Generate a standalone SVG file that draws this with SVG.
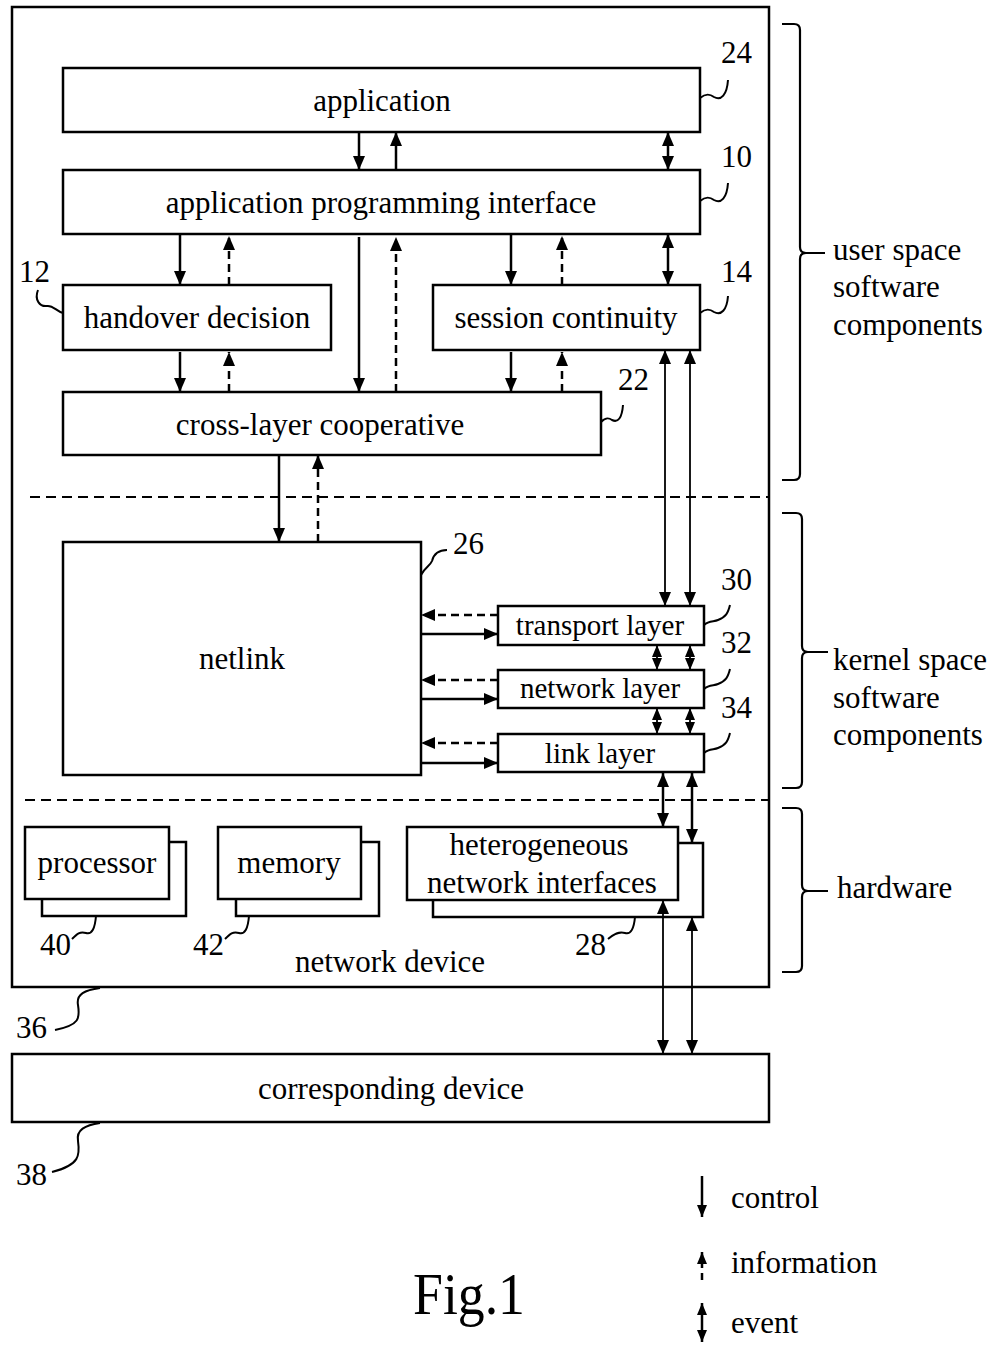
<svg xmlns="http://www.w3.org/2000/svg" width="997" height="1345" viewBox="0 0 997 1345">
<style>
.box{fill:#fff;stroke:#000;stroke-width:2.5}
.t{font-family:"Liberation Serif","Times New Roman",serif;font-size:31px;fill:#000}
.s{font-size:29px}
.c{text-anchor:middle}
.ln{stroke:#000;stroke-width:2.5;fill:none}
.th{stroke-width:1.8}
.d{stroke-dasharray:8,5}
.sep{stroke:#000;stroke-width:2;stroke-dasharray:10,6;fill:none}
.sq{stroke:#000;stroke-width:2;fill:none}
.br{stroke:#000;stroke-width:2.2;fill:none}
</style>
<defs>
<marker id="a" markerUnits="userSpaceOnUse" markerWidth="14" markerHeight="12" refX="14" refY="6" orient="auto-start-reverse">
<path d="M0,0 L14,6 L0,12 z" fill="#000"/>
</marker>
<marker id="as" markerUnits="userSpaceOnUse" markerWidth="12" markerHeight="10" refX="12" refY="5" orient="auto-start-reverse">
<path d="M0,0 L12,5 L0,10 z" fill="#000"/>
</marker>
</defs>
<rect width="997" height="1345" fill="#fff"/>

<g id="network-device">
<rect class="box" x="12" y="7" width="757" height="980"/>
<text class="t c" x="390" y="972">network device</text>
<path class="sq" d="M100,988 C85,990 76,994 78,1005 C80,1018 80,1025 55,1030"/>
<text class="t" x="16" y="1038">36</text>
</g>

<g id="separators">
<path class="sep" d="M30,497 H769"/>
<path class="sep" d="M25,800 H769"/>
</g>

<g id="application">
<rect class="box" x="63" y="68" width="637" height="64"/>
<text class="t c" x="382" y="111">application</text>
<path class="sq" d="M700,98 C706,93 710,94 714,97 C721,101 727,95 728,80"/>
<text class="t" x="721" y="63">24</text>
</g>

<g id="api">
<rect class="box" x="63" y="170" width="637" height="64"/>
<text class="t c" x="381" y="213">application programming interface</text>
<path class="sq" d="M700,201 C706,196 710,197 714,200 C721,204 727,198 728,183"/>
<text class="t" x="721" y="167">10</text>
</g>

<g id="handover-decision">
<rect class="box" x="63" y="285" width="268" height="65"/>
<text class="t c" x="197" y="328">handover decision</text>
<path class="sq" d="M63,313 C56,311 53,305 47,306 C40,307 34,300 38,290"/>
<text class="t" x="19" y="282">12</text>
</g>

<g id="session-continuity">
<rect class="box" x="433" y="285" width="267" height="65"/>
<text class="t c" x="566" y="328">session continuity</text>
<path class="sq" d="M700,313 C706,308 710,309 714,312 C721,316 727,310 728,296"/>
<text class="t" x="721" y="282">14</text>
</g>

<g id="cross-layer-cooperative">
<rect class="box" x="63" y="392" width="538" height="63"/>
<text class="t c" x="320" y="435">cross-layer cooperative</text>
<path class="sq" d="M601,422 C606,417 609,418 612,420 C618,423 622,418 623,405"/>
<text class="t" x="618" y="390">22</text>
</g>

<g id="netlink">
<rect class="box" x="63" y="542" width="358" height="233"/>
<text class="t c" x="242" y="669">netlink</text>
<path class="sq" d="M421,575 C425,567 430,566 432,561 C434,553 440,550 447,550"/>
<text class="t" x="453" y="554">26</text>
</g>

<g id="transport-layer">
<rect class="box" x="498" y="606" width="206" height="39"/>
<text class="t s c" x="600" y="635">transport layer</text>
<path class="sq" d="M704,625 C709,620 714,622 718,620 C726,617 728,613 730,605"/>
<text class="t" x="721" y="590">30</text>
</g>

<g id="network-layer">
<rect class="box" x="498" y="670" width="206" height="38"/>
<text class="t s c" x="600" y="698">network layer</text>
<path class="sq" d="M704,689 C709,684 714,686 718,684 C726,681 728,677 730,669"/>
<text class="t" x="721" y="653">32</text>
</g>

<g id="link-layer">
<rect class="box" x="498" y="734" width="206" height="38"/>
<text class="t s c" x="600" y="763">link layer</text>
<path class="sq" d="M704,753 C709,748 714,750 718,748 C726,745 728,741 730,733"/>
<text class="t" x="721" y="718">34</text>
</g>

<g id="processor">
<rect class="box" x="42" y="842" width="144" height="74"/>
<rect class="box" x="25" y="827" width="144" height="72"/>
<text class="t c" x="97" y="873">processor</text>
<path class="sq" d="M96,916 C95,928 92,935 86,933 C80,931 77,934 72,939"/>
<text class="t" x="40" y="955">40</text>
</g>

<g id="memory">
<rect class="box" x="236" y="842" width="143" height="74"/>
<rect class="box" x="218" y="827" width="143" height="72"/>
<text class="t c" x="289" y="873">memory</text>
<path class="sq" d="M249,916 C248,928 245,935 239,933 C233,931 230,934 225,939"/>
<text class="t" x="193" y="955">42</text>
</g>

<g id="heterogeneous-network-interfaces">
<rect class="box" x="433" y="843" width="270" height="74"/>
<rect class="box" x="407" y="827" width="271" height="73"/>
<text class="t c" x="539" y="855">heterogeneous</text>
<text class="t c" x="542" y="893">network interfaces</text>
<path class="sq" d="M635,917 C634,928 631,935 625,933 C619,931 614,934 608,939"/>
<text class="t" x="575" y="955">28</text>
</g>

<g id="corresponding-device">
<rect class="box" x="12" y="1054" width="757" height="68"/>
<text class="t c" x="391" y="1099">corresponding device</text>
<path class="sq" d="M100,1123 C85,1125 76,1130 78,1141 C80,1155 80,1165 52,1172"/>
<text class="t" x="16" y="1185">38</text>
</g>

<g id="brackets">
<path class="br" d="M782,24 L794,24 Q800,24 800,30 L800,247 Q800,253 806,253 L825,253 M806,253 Q800,253 800,259 L800,474 Q800,480 794,480 L782,480"/>
<text class="t" x="833" y="260">user space</text>
<text class="t" x="833" y="297">software</text>
<text class="t" x="833" y="335">components</text>
<path class="br" d="M782,513 L796,513 Q802,513 802,519 L802,646 Q802,652 808,652 L828,652 M808,652 Q802,652 802,658 L802,782 Q802,788 796,788 L782,788"/>
<text class="t" x="833" y="670">kernel space</text>
<text class="t" x="833" y="708">software</text>
<text class="t" x="833" y="745">components</text>
<path class="br" d="M782,808 L796,808 Q802,808 802,814 L802,885 Q802,891 808,891 L828,891 M808,891 Q802,891 802,897 L802,966 Q802,972 796,972 L782,972"/>
<text class="t" x="837" y="898">hardware</text>
</g>

<g id="connectors">
<path class="ln" d="M359,132 V170" marker-end="url(#a)"/>
<path class="ln" d="M396,170 V132" marker-end="url(#a)"/>
<path class="ln" d="M668,132 V170" marker-start="url(#a)" marker-end="url(#a)"/>
<path class="ln" d="M180,234 V285" marker-end="url(#a)"/>
<path class="ln d" d="M229,285 V236" marker-end="url(#a)"/>
<path class="ln" d="M359,237 V392" marker-end="url(#a)"/>
<path class="ln d" d="M396,392 V237" marker-end="url(#a)"/>
<path class="ln" d="M511,234 V285" marker-end="url(#a)"/>
<path class="ln d" d="M562,285 V236" marker-end="url(#a)"/>
<path class="ln" d="M668,234 V285" marker-start="url(#a)" marker-end="url(#a)"/>
<path class="ln" d="M180,352 V392" marker-end="url(#a)"/>
<path class="ln d" d="M229,392 V352" marker-end="url(#a)"/>
<path class="ln" d="M511,352 V392" marker-end="url(#a)"/>
<path class="ln d" d="M562,392 V352" marker-end="url(#a)"/>
<path class="ln th" d="M665,350 V606" marker-start="url(#a)" marker-end="url(#a)"/>
<path class="ln th" d="M690,350 V606" marker-start="url(#a)" marker-end="url(#a)"/>
<path class="ln" d="M279,455 V542" marker-end="url(#a)"/>
<path class="ln d" d="M318,542 V455" marker-end="url(#a)"/>
<path class="ln d" d="M498,615 H421" marker-end="url(#a)"/>
<path class="ln" d="M421,634 H498" marker-end="url(#a)"/>
<path class="ln d" d="M498,680 H421" marker-end="url(#a)"/>
<path class="ln" d="M421,699 H498" marker-end="url(#a)"/>
<path class="ln d" d="M498,743 H421" marker-end="url(#a)"/>
<path class="ln" d="M421,763 H498" marker-end="url(#a)"/>
<path class="ln th" d="M657,645 V670" marker-start="url(#as)" marker-end="url(#as)"/>
<path class="ln th" d="M690,645 V670" marker-start="url(#as)" marker-end="url(#as)"/>
<path class="ln th" d="M657,708 V734" marker-start="url(#as)" marker-end="url(#as)"/>
<path class="ln th" d="M690,708 V734" marker-start="url(#as)" marker-end="url(#as)"/>
<path class="ln" d="M663,773 V827" marker-start="url(#a)" marker-end="url(#a)"/>
<path class="ln" d="M692,773 V843" marker-start="url(#a)" marker-end="url(#a)"/>
<path class="ln th" d="M663,900 V1054" marker-start="url(#a)" marker-end="url(#a)"/>
<path class="ln th" d="M692,917 V1054" marker-start="url(#a)" marker-end="url(#a)"/>
</g>

<g id="legend">
<path class="ln" d="M702,1176 V1217" marker-end="url(#as)"/>
<text class="t" x="731" y="1208">control</text>
<path class="ln" d="M702,1280 V1252" stroke-dasharray="7,5" marker-end="url(#as)"/>
<text class="t" x="731" y="1273">information</text>
<path class="ln" d="M702,1303 V1342" marker-start="url(#as)" marker-end="url(#as)"/>
<text class="t" x="731" y="1333">event</text>
</g>

<g id="caption">
<text class="t" x="413" y="1314" style="font-size:60px" textLength="112" lengthAdjust="spacingAndGlyphs">Fig.1</text>
</g>
</svg>
